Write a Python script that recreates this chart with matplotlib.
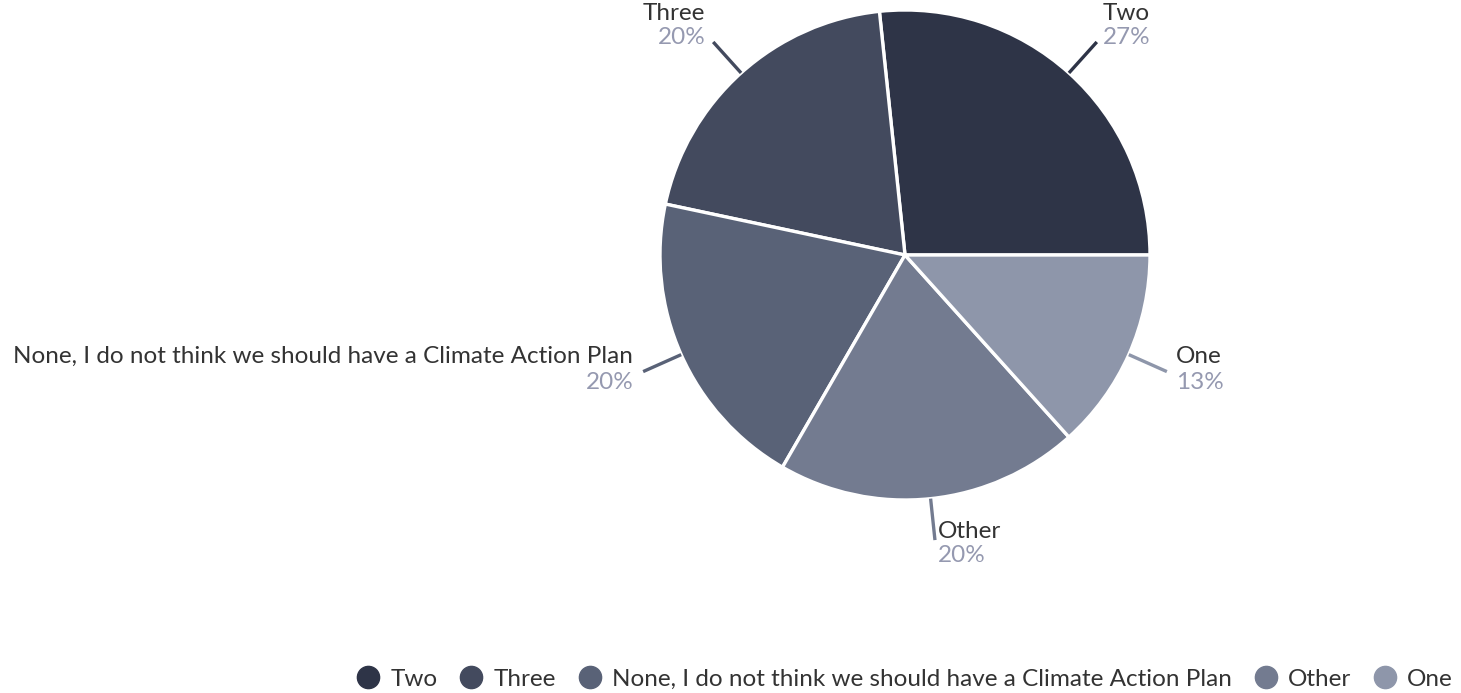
import matplotlib.pyplot as plt
import numpy as np
from matplotlib.lines import Line2D

plt.rcParams['font.family'] = ['Lato', 'DejaVu Sans']

labels = ['Two', 'Three', 'None, I do not think we should have a Climate Action Plan', 'Other', 'One']
counts = [4, 3, 3, 3, 2]
colors = ['#2e3447', '#434a5e', '#596277', '#737b90', '#8e96aa']

name_color = '#333333'
pct_color = '#9599b0'

W, H = 1461, 693
fig = plt.figure(figsize=(W / 100, H / 100), dpi=100)
# pie centred at (905, 255) px with radius 245 px
cx, cy, r = 905, 255, 245
ax = fig.add_axes([(cx - r) / W, (H - cy - r) / H, 2 * r / W, 2 * r / H])

wedges, _ = ax.pie(counts, colors=colors, startangle=0, counterclock=True, radius=1,
                   wedgeprops=dict(edgecolor='white', linewidth=2.4))
ax.set_xlim(-1, 1)
ax.set_ylim(-1, 1)
ax.axis('off')

total = sum(counts)
# pixel offsets of the name / percentage lines from the end of each leader line
text_offsets = [(6, 28, 4), (-8, 28, 4), (-10, 15, -11), (3, 9, -15), (9, 15, -11)]

for w, lab, c, col, (dx, dy_name, dy_pct) in zip(wedges, labels, counts, colors, text_offsets):
    ang = np.deg2rad((w.theta1 + w.theta2) / 2)
    x0, y0 = np.cos(ang), np.sin(ang)
    x1, y1 = 1.17 * x0, 1.17 * y0
    ax.plot([1.0 * x0, x1], [1.0 * y0, y1], color=col, lw=2.4, solid_capstyle='butt', clip_on=False)
    ha = 'left' if dx > 0 else 'right'
    ax.annotate(lab, (x1, y1), xytext=(dx, dy_name), textcoords='offset pixels',
                ha=ha, va='center', fontsize=17.5, color=name_color, annotation_clip=False)
    ax.annotate(f'{round(100 * c / total)}%', (x1, y1), xytext=(dx, dy_pct), textcoords='offset pixels',
                ha=ha, va='center', fontsize=17.5, color=pct_color, annotation_clip=False)

handles = [Line2D([], [], marker='o', linestyle='none', markersize=16, markerfacecolor=col,
                  markeredgecolor=col) for col in colors]
fig.legend(handles, labels, loc='center right', bbox_to_anchor=(1462 / W, 1 - 679 / H), ncol=5,
           frameon=False, fontsize=17.5, labelcolor=name_color, handletextpad=0.4,
           columnspacing=0.9, handlelength=1.0, borderaxespad=0)

fig.savefig('out.png', dpi=100)
